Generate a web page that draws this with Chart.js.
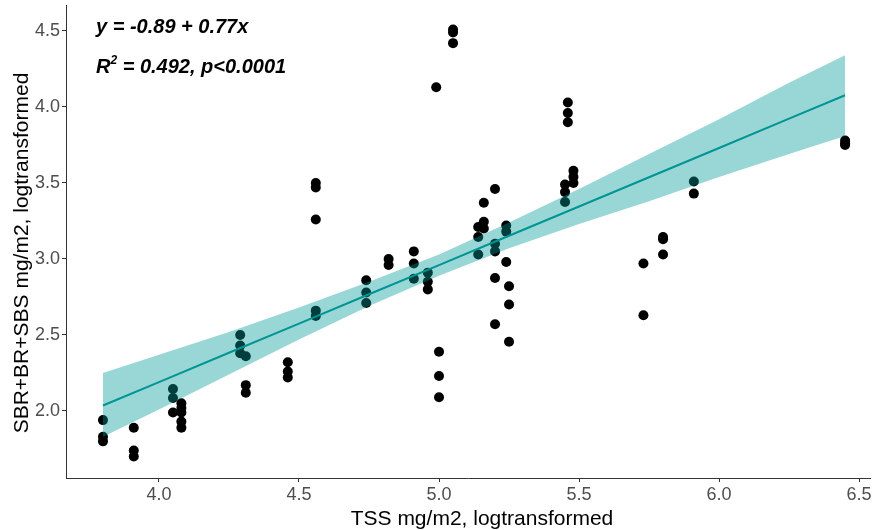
<!DOCTYPE html>
<html>
<head>
<meta charset="utf-8">
<script src="https://cdn.jsdelivr.net/npm/chart.js@4/dist/chart.umd.min.js"></script>
<style>
  body { margin: 0; background: #fff; }
  #wrap { width: 875px; height: 530px; position: relative; }
</style>
</head>
<body>
<div id="wrap"><canvas id="scatter"></canvas></div>
<script>
// TSS (x) and SBR+BR+SBS (y), both logtransformed
const tssX = [
  3.80, 3.80, 3.80,
  3.91, 3.91, 3.91,
  4.05, 4.05, 4.05,
  4.08, 4.08, 4.08, 4.08, 4.08,
  4.29, 4.29, 4.29,
  4.31, 4.31, 4.31,
  4.46, 4.46, 4.46,
  4.56, 4.56, 4.56, 4.56, 4.56,
  4.74, 4.74, 4.74,
  4.82, 4.82,
  4.91, 4.91, 4.91,
  4.96, 4.96, 4.96,
  4.99,
  5.00, 5.00, 5.00,
  5.05, 5.05, 5.05,
  5.14, 5.14, 5.14,
  5.16, 5.16, 5.16,
  5.20, 5.20, 5.20, 5.20, 5.20,
  5.24, 5.24, 5.24,
  5.25, 5.25, 5.25,
  5.45, 5.45, 5.45, 5.46, 5.46, 5.46,
  5.48, 5.48, 5.48,
  5.73, 5.73,
  5.80, 5.80, 5.80,
  5.91, 5.91,
  6.45, 6.45, 6.45
]
const sbrY = [
  1.94, 1.83, 1.80,
  1.89, 1.74, 1.70,
  2.145, 2.085, 1.99,
  2.05, 2.02, 1.99, 1.93, 1.89,
  2.50, 2.43, 2.38,
  2.36, 2.17, 2.12,
  2.32, 2.26, 2.22,
  3.50, 3.47, 3.26, 2.66, 2.625,
  2.86, 2.78, 2.71,
  3.00, 2.96,
  3.05, 2.97, 2.87,
  2.91, 2.85, 2.80,
  4.13,
  2.39, 2.23, 2.09,
  4.51, 4.49, 4.42,
  3.21, 3.145, 3.03,
  3.37, 3.245, 3.20,
  3.46, 3.10, 3.05, 2.875, 2.57,
  3.22, 3.18, 2.98,
  2.82, 2.70, 2.455,
  3.49, 3.44, 3.375, 4.03, 3.96, 3.90,
  3.58, 3.54, 3.50,
  2.97, 2.63,
  3.145, 3.13, 3.03,
  3.51, 3.43,
  3.78, 3.76, 3.75
]

// fitted line and confidence band
const fitX = [3.8, 4.0, 4.25, 4.5, 4.75, 5.0, 5.25, 5.5, 5.75, 6.0, 6.25, 6.45]
const fitY = [2.036, 2.19, 2.383, 2.575, 2.768, 2.96, 3.153, 3.345, 3.538, 3.73, 3.923, 4.077]
const bandUpper = [2.25, 2.37, 2.52, 2.68, 2.85, 3.03, 3.24, 3.46, 3.69, 3.92, 4.16, 4.34]
const bandLower = [1.83, 2.01, 2.24, 2.47, 2.69, 2.89, 3.07, 3.23, 3.38, 3.54, 3.69, 3.81]

const xTicks = [4.0, 4.5, 5.0, 5.5, 6.0, 6.5]
const yTicks = [2.0, 2.5, 3.0, 3.5, 4.0, 4.5]

const points = tssX.map((x, i) => ({ x: x, y: sbrY[i] }))
const toXY = (ys) => fitX.map((x, i) => ({ x: x, y: ys[i] }))

const axisColor = '#333333'
const tickColor = '#4d4d4d'

const labelsPlugin = {
  id: 'labels',
  afterDraw(chart) {
    const ctx = chart.ctx
    ctx.save()
    ctx.fillStyle = '#000'
    ctx.textBaseline = 'middle'
    ctx.textAlign = 'left'
    ctx.font = 'italic bold 20px "Liberation Sans", Arial, sans-serif'
    ctx.fillText('y = -0.89 + 0.77x', 96, 27)
    let x = 96
    ctx.fillText('R', x, 67)
    x += ctx.measureText('R').width
    ctx.font = 'italic bold 12px "Liberation Sans", Arial, sans-serif'
    ctx.fillText('2', x, 61)
    x += ctx.measureText('2').width
    ctx.font = 'italic bold 20px "Liberation Sans", Arial, sans-serif'
    ctx.fillText(' = 0.492, p<0.0001', x, 67)

    // axis titles
    ctx.font = '21px "Liberation Sans", Arial, sans-serif'
    ctx.textAlign = 'center'
    ctx.fillText('TSS mg/m2, logtransformed', 482, 519)
    ctx.translate(22, 253)
    ctx.rotate(-Math.PI / 2)
    ctx.fillText('SBR+BR+SBS mg/m2, logtransformed', 0, 0)
    ctx.restore()
  }
}

const ctx = document.getElementById('scatter').getContext('2d')
const myChart = new Chart(ctx, {
  type: 'scatter',
  data: {
    datasets: [
      {
        type: 'line',
        data: toXY(fitY),
        borderColor: '#009494',
        borderWidth: 2,
        pointRadius: 0,
        fill: false,
        order: 0
      },
      {
        type: 'line',
        data: toXY(bandUpper),
        borderWidth: 0,
        borderColor: 'rgba(0,0,0,0)',
        backgroundColor: 'rgba(0,152,152,0.4)',
        pointRadius: 0,
        fill: '+1',
        order: 1
      },
      {
        type: 'line',
        data: toXY(bandLower),
        borderWidth: 0,
        borderColor: 'rgba(0,0,0,0)',
        pointRadius: 0,
        fill: false,
        order: 1
      },
      {
        data: points,
        backgroundColor: '#000',
        borderWidth: 0,
        pointRadius: 5,
        order: 2
      }
    ]
  },
  options: {
    responsive: true,
    maintainAspectRatio: false,
    animation: false,
    layout: { padding: 0 },
    plugins: {
      legend: { display: false },
      tooltip: { enabled: false }
    },
    scales: {
      x: {
        type: 'linear',
        min: 3.668,
        max: 6.539,
        afterBuildTicks: (scale) => { scale.ticks = xTicks.map(v => ({ value: v })) },
        afterFit: (scale) => {
          scale.height = 52
          scale.paddingLeft = 0
          scale.paddingRight = 0
        },
        grid: { drawOnChartArea: false, drawTicks: true, tickLength: 4, color: axisColor },
        border: { display: true, color: axisColor, width: 1 },
        ticks: {
          color: tickColor,
          font: { family: '"Liberation Sans", Arial, sans-serif', size: 18 },
          padding: 2,
          maxRotation: 0,
          callback: (v) => Number(v).toFixed(1)
        }
      },
      y: {
        type: 'linear',
        min: 1.559,
        max: 4.671,
        afterBuildTicks: (scale) => { scale.ticks = yTicks.map(v => ({ value: v })) },
        afterFit: (scale) => {
          scale.width = 66
          scale.paddingTop = 0
          scale.paddingBottom = 0
        },
        grid: { drawOnChartArea: false, drawTicks: true, tickLength: 4, color: axisColor },
        border: { display: true, color: axisColor, width: 1 },
        ticks: {
          color: tickColor,
          font: { family: '"Liberation Sans", Arial, sans-serif', size: 18 },
          padding: 2,
          callback: (v) => Number(v).toFixed(1)
        }
      }
    }
  },
  plugins: [labelsPlugin]
})
</script>
</body>
</html>
